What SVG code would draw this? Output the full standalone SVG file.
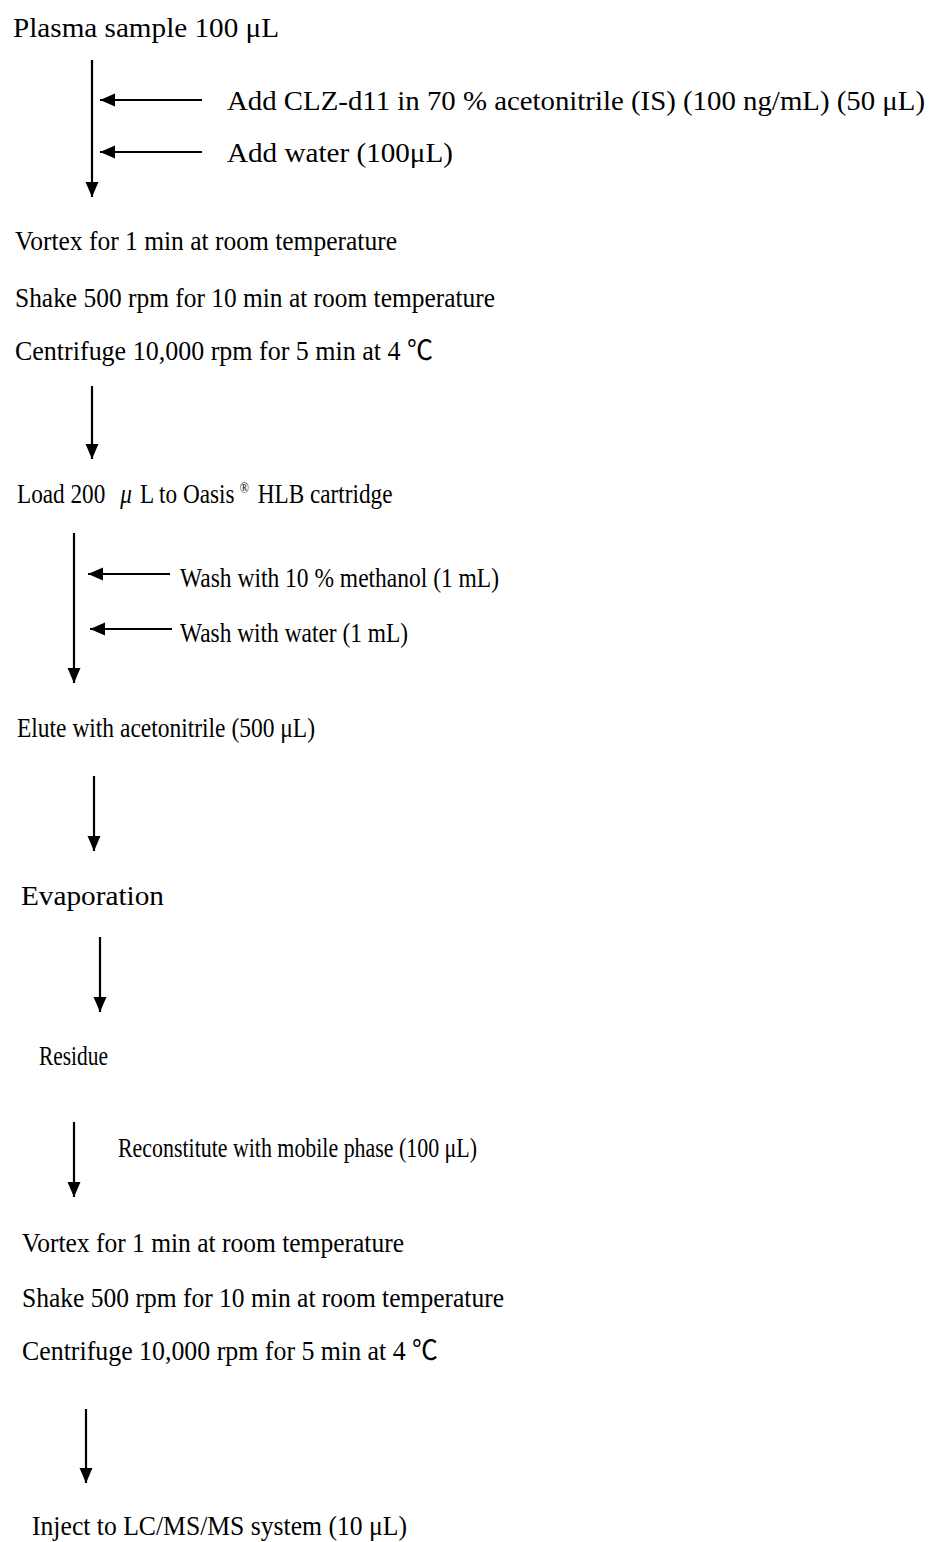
<svg xmlns="http://www.w3.org/2000/svg" width="941" height="1542" viewBox="0 0 941 1542">
<style>
text{font-family:"Liberation Serif","Times New Roman","Noto Sans CJK JP",serif;font-size:27px;fill:#000}
.c line{stroke:#000;stroke-width:2.2;fill:none}
</style>
<defs>
<marker id="ah" markerUnits="userSpaceOnUse" markerWidth="16" markerHeight="14" refX="15" refY="6.5" orient="auto">
<path d="M0,0 L15,6.5 L0,13 Z" fill="#000"/>
</marker>
</defs>
<rect width="941" height="1542" fill="#fff"/>
<g id="n1"><text x="13" y="37" textLength="266" lengthAdjust="spacingAndGlyphs">Plasma sample 100 μL</text></g>
<g id="n1a"><text x="227" y="110" textLength="698" lengthAdjust="spacingAndGlyphs">Add CLZ-d11 in 70 % acetonitrile (IS) (100 ng/mL) (50 μL)</text></g>
<g id="n1b"><text x="227" y="162" textLength="226" lengthAdjust="spacingAndGlyphs">Add water (100μL)</text></g>
<g id="n2">
<text x="15" y="250" textLength="382" lengthAdjust="spacingAndGlyphs">Vortex for 1 min at room temperature</text>
<text x="15" y="307" textLength="480" lengthAdjust="spacingAndGlyphs">Shake 500 rpm for 10 min at room temperature</text>
<text x="15" y="360" textLength="418" lengthAdjust="spacingAndGlyphs">Centrifuge 10,000 rpm for 5 min at 4 ℃</text>
</g>
<g id="n3" transform="translate(17,503) scale(0.86,1)"><text x="0" y="0"><tspan x="0">Load 200</tspan><tspan x="120" font-style="italic">μ</tspan><tspan x="143">L to Oasis</tspan><tspan x="259" dy="-10" font-size="14">®</tspan><tspan x="280" dy="10">HLB cartridge</tspan></text></g>
<g id="n3a"><text x="180" y="587" textLength="319" lengthAdjust="spacingAndGlyphs">Wash with 10 % methanol (1 mL)</text></g>
<g id="n3b"><text x="180" y="642" textLength="228" lengthAdjust="spacingAndGlyphs">Wash with water (1 mL)</text></g>
<g id="n4"><text x="17" y="737" textLength="298" lengthAdjust="spacingAndGlyphs">Elute with acetonitrile (500 μL)</text></g>
<g id="n5"><text x="21" y="905" textLength="143" lengthAdjust="spacingAndGlyphs">Evaporation</text></g>
<g id="n6"><text x="39" y="1065" textLength="69" lengthAdjust="spacingAndGlyphs">Residue</text></g>
<g id="n6a"><text x="118" y="1157" textLength="359" lengthAdjust="spacingAndGlyphs">Reconstitute with mobile phase (100 μL)</text></g>
<g id="n7">
<text x="22" y="1252" textLength="382" lengthAdjust="spacingAndGlyphs">Vortex for 1 min at room temperature</text>
<text x="22" y="1307" textLength="482" lengthAdjust="spacingAndGlyphs">Shake 500 rpm for 10 min at room temperature</text>
<text x="22" y="1360" textLength="416" lengthAdjust="spacingAndGlyphs">Centrifuge 10,000 rpm for 5 min at 4 ℃</text>
</g>
<g id="n8"><text x="32" y="1535" textLength="375" lengthAdjust="spacingAndGlyphs">Inject to LC/MS/MS system (10 μL)</text></g>
<g id="connectors" class="c">
<line x1="92" y1="60" x2="92" y2="197" marker-end="url(#ah)"/>
<line x1="202" y1="100" x2="100" y2="100" marker-end="url(#ah)"/>
<line x1="202" y1="152" x2="100" y2="152" marker-end="url(#ah)"/>
<line x1="92" y1="386" x2="92" y2="459" marker-end="url(#ah)"/>
<line x1="74" y1="533" x2="74" y2="683" marker-end="url(#ah)"/>
<line x1="170" y1="574" x2="88" y2="574" marker-end="url(#ah)"/>
<line x1="172" y1="629" x2="90" y2="629" marker-end="url(#ah)"/>
<line x1="94" y1="776" x2="94" y2="851" marker-end="url(#ah)"/>
<line x1="100" y1="937" x2="100" y2="1012" marker-end="url(#ah)"/>
<line x1="74" y1="1122" x2="74" y2="1197" marker-end="url(#ah)"/>
<line x1="86" y1="1409" x2="86" y2="1483" marker-end="url(#ah)"/>
</g>
</svg>
